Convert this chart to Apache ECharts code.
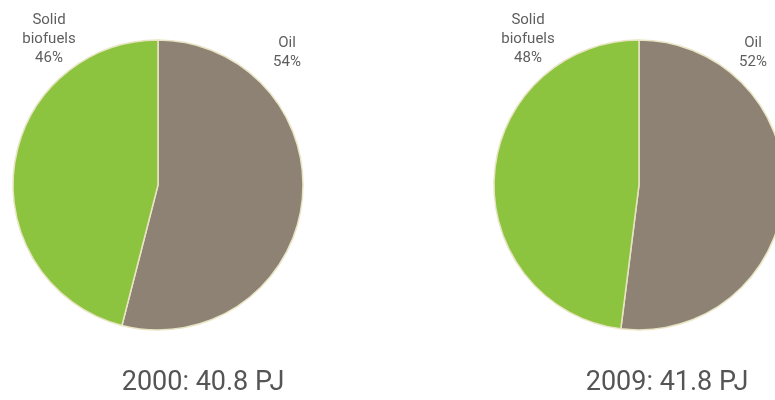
<!DOCTYPE html>
<html>
<head>
<meta charset="utf-8">
<script src="https://cdn.jsdelivr.net/npm/echarts@6/dist/echarts.min.js"></script>
<style>
  html, body { margin: 0; padding: 0; background: #fff; }
  #main { width: 775px; height: 400px; }
</style>
</head>
<body>
<div id="main"></div>
<script>
// 数据
var categories = ["Oil", "Solid biofuels"];
var labelNames = ["Oil", "Solid\nbiofuels"];
var values2000 = [54, 46];
var values2009 = [52, 48];
var years = ["2000: 40.8 PJ", "2009: 41.8 PJ"];

var colors = ["#8d8273", "#8dc43f"];

// 标签位置（相对饼图中心的偏移）
var labelOffset2000 = [[129, -132], [-109, -146]];
var labelOffset2009 = [[114, -132], [-111, -146]];

function buildData(values) {
  return categories.map(function (c, i) {
    return { name: c, value: values[i], itemStyle: { color: colors[i] } };
  });
}

function pieSeries(values, cx, offsets) {
  return {
    type: "pie",
    center: [cx, 185],
    radius: 145,
    startAngle: 90,
    clockwise: true,
    silent: true,
    avoidLabelOverlap: false,
    data: buildData(values),
    itemStyle: { borderColor: "#e9e5c4", borderWidth: 1.5 },
    label: {
      show: true,
      position: "outside",
      formatter: function (p) {
        return labelNames[p.dataIndex] + "\n" + p.value + "%";
      },
      color: "#5e5e5e",
      fontSize: 15,
      lineHeight: 19,
      fontFamily: "Roboto, sans-serif",
      align: "center",
      overflow: "none"
    },
    labelLine: { show: false },
    labelLayout: function (params) {
      var off = offsets[params.dataIndex];
      return {
        x: cx + off[0],
        y: 185 + off[1],
        align: "center",
        verticalAlign: "middle"
      };
    }
  };
}

var titleStyle = { color: "#555", fontSize: 27, fontWeight: "normal", fontFamily: "Roboto, sans-serif" };

var chart = echarts.init(document.getElementById("main"));
chart.setOption({
  animation: false,
  title: [
    { text: years[0], left: 203, top: 370, textAlign: "center", padding: 0, textStyle: titleStyle },
    { text: years[1], left: 667, top: 370, textAlign: "center", padding: 0, textStyle: titleStyle }
  ],
  series: [
    pieSeries(values2000, 158, labelOffset2000),
    pieSeries(values2009, 639, labelOffset2009)
  ]
});
</script>
</body>
</html>
